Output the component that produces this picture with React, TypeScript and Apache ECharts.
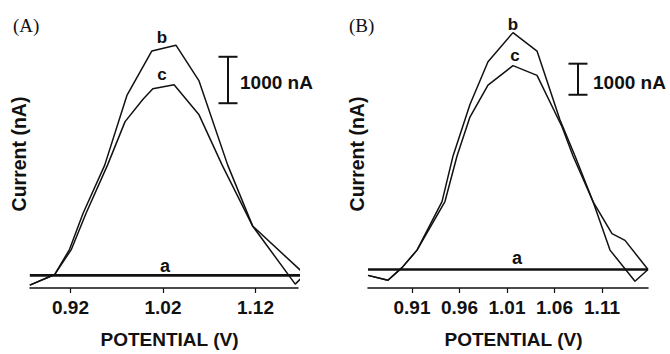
import React, { useEffect, useRef } from "react";
import * as echarts from "echarts";

// ---- Panel A data (potential in V, current in nA, relative to baseline a) ----
const A_TICKS = [0.92, 1.02, 1.12];
const A_A_POTENTIAL = [0.876, 1.1735];
const A_A_CURRENT = [0, 0];
const A_B_POTENTIAL = [0.876, 0.903, 0.919, 0.9335, 0.957, 0.981, 1.008, 1.034, 1.059, 1.09, 1.117, 1.163, 1.1735];
const A_B_CURRENT = [-208, 21, 562, 1333, 2375, 3875, 4833, 4958, 4188, 2375, 1062, -188, 21];
const A_C_POTENTIAL = [0.876, 0.903, 0.921, 0.9367, 0.96, 0.979, 0.9984, 1.009, 1.032, 1.059, 1.084, 1.117, 1.1735];
const A_C_CURRENT = [-208, 21, 562, 1333, 2375, 3312, 3792, 4021, 4104, 3458, 2375, 1062, 21];
const A_SCALE_POTENTIAL = [1.0903, 1.0903];
const A_SCALE_CURRENT = [3708, 4708];

// ---- Panel B data ----
const B_TICKS = [0.91, 0.96, 1.01, 1.06, 1.11];
const B_A_POTENTIAL = [0.8637, 1.1584];
const B_A_CURRENT = [0, 0];
const B_B_POTENTIAL = [0.8637, 0.8847, 0.8995, 0.9153, 0.9416, 0.9532, 0.971, 0.99, 1.0163, 1.0416, 1.0658, 1.0816, 1.1005, 1.1205, 1.1342, 1.1584];
const B_B_CURRENT = [-188, -344, 62, 625, 2188, 3656, 5312, 6688, 7625, 7031, 4812, 3656, 2188, 1156, 938, 0];
const B_C_POTENTIAL = [0.8637, 0.8847, 0.8995, 0.9153, 0.9447, 0.9574, 0.971, 0.99, 1.0163, 1.0416, 1.0679, 1.0795, 1.1005, 1.1184, 1.1447, 1.1584];
const B_C_CURRENT = [-188, -344, 62, 625, 2188, 3656, 4906, 5938, 6562, 6250, 4594, 3656, 2188, 625, -375, 0];
const B_SCALE_POTENTIAL = [1.0847, 1.0847];
const B_SCALE_CURRENT = [5625, 6625];

const SANS = "'Liberation Sans', Arial, sans-serif";
const SERIF = "'Liberation Serif', 'Times New Roman', serif";
const INK = "#111";

const zip = (xs: number[], ys: number[]) => xs.map((x, i) => [x, ys[i]]);

function curve(data: number[][], idx: number, width: number) {
  return {
    type: "line",
    xAxisIndex: idx,
    yAxisIndex: idx,
    data,
    showSymbol: false,
    symbol: "none",
    clip: false,
    lineStyle: { color: INK, width },
    z: 3,
  };
}

function scaleBar(data: number[][], idx: number) {
  return {
    type: "line",
    xAxisIndex: idx,
    yAxisIndex: idx,
    data,
    symbol: "rect",
    symbolSize: [19, 2],
    showSymbol: true,
    itemStyle: { color: INK },
    lineStyle: { color: INK, width: 2 },
    clip: false,
  };
}

function xAxis(idx: number, min: number, max: number, ticks: number[]) {
  return {
    type: "value",
    gridIndex: idx,
    min,
    max,
    name: "POTENTIAL (V)",
    nameLocation: "middle",
    nameGap: 42,
    nameTextStyle: {
      fontFamily: SANS,
      fontWeight: "bold",
      fontSize: 19,
      color: INK,
      padding: [0, 0, 0, 11],
    },
    axisLine: { show: true, onZero: false, lineStyle: { color: INK, width: 1.5 } },
    axisTick: { show: true, customValues: ticks, length: 5, lineStyle: { color: INK, width: 1.2 } },
    axisLabel: {
      customValues: ticks,
      formatter: (v: number) => v.toFixed(2),
      margin: 10,
      fontFamily: SANS,
      fontWeight: "bold",
      fontSize: 19,
      color: INK,
    },
    splitLine: { show: false },
  };
}

function yAxis(idx: number, min: number, max: number) {
  return {
    type: "value",
    gridIndex: idx,
    min,
    max,
    name: "Current (nA)",
    nameLocation: "middle",
    nameRotate: 90,
    nameGap: 1,
    nameTextStyle: { fontFamily: SANS, fontWeight: "bold", fontSize: 19.5, color: INK },
    axisLine: { show: false },
    axisTick: { show: false },
    axisLabel: { show: false },
    splitLine: { show: false },
  };
}

function label(text: string, x: number, y: number, size = 17, align = "center") {
  return {
    type: "text",
    x,
    y,
    style: {
      text,
      fontFamily: SANS,
      fontWeight: "bold",
      fontSize: size,
      fill: INK,
      align,
      verticalAlign: "middle",
    },
  };
}

export default function App() {
  const ref = useRef<HTMLDivElement>(null);
  useEffect(() => {
    if (!ref.current) return;
    const chart = echarts.init(ref.current, null, { renderer: "svg" });
    chart.setOption({
      animation: false,
      backgroundColor: "#fff",
      grid: [
        { left: 30, top: 20, width: 268, height: 277 },
        { left: 368, top: 20, width: 280, height: 276 },
      ],
      xAxis: [xAxis(0, 0.8762, 1.166, A_TICKS), xAxis(1, 0.8637, 1.1584, B_TICKS)],
      yAxis: [yAxis(0, -271, 5500), yAxis(1, -594, 8031)],
      series: [
        curve(zip(A_A_POTENTIAL, A_A_CURRENT), 0, 2.6),
        curve(zip(A_B_POTENTIAL, A_B_CURRENT), 0, 1.5),
        curve(zip(A_C_POTENTIAL, A_C_CURRENT), 0, 1.5),
        scaleBar(zip(A_SCALE_POTENTIAL, A_SCALE_CURRENT), 0),
        curve(zip(B_A_POTENTIAL, B_A_CURRENT), 1, 2.6),
        curve(zip(B_B_POTENTIAL, B_B_CURRENT), 1, 1.5),
        curve(zip(B_C_POTENTIAL, B_C_CURRENT), 1, 1.5),
        scaleBar(zip(B_SCALE_POTENTIAL, B_SCALE_CURRENT), 1),
      ],
      graphic: [
        {
          type: "text",
          x: 13,
          y: 25,
          style: { text: "(A)", fontFamily: SERIF, fontSize: 19, fill: INK, verticalAlign: "middle" },
        },
        {
          type: "text",
          x: 349,
          y: 25,
          style: { text: "(B)", fontFamily: SERIF, fontSize: 19, fill: INK, verticalAlign: "middle" },
        },
        label("b", 162, 37),
        label("c", 162, 74),
        label("a", 165, 266, 18),
        label("b", 513, 24),
        label("c", 515, 55),
        label("a", 517, 258, 18),
        label("1000 nA", 240, 82, 19, "left"),
        label("1000 nA", 593, 82, 19, "left"),
      ],
    });
    return () => chart.dispose();
  }, []);
  return <div ref={ref} style={{ width: 670, height: 354, position: "absolute", left: 0, top: 0 }} />;
}
